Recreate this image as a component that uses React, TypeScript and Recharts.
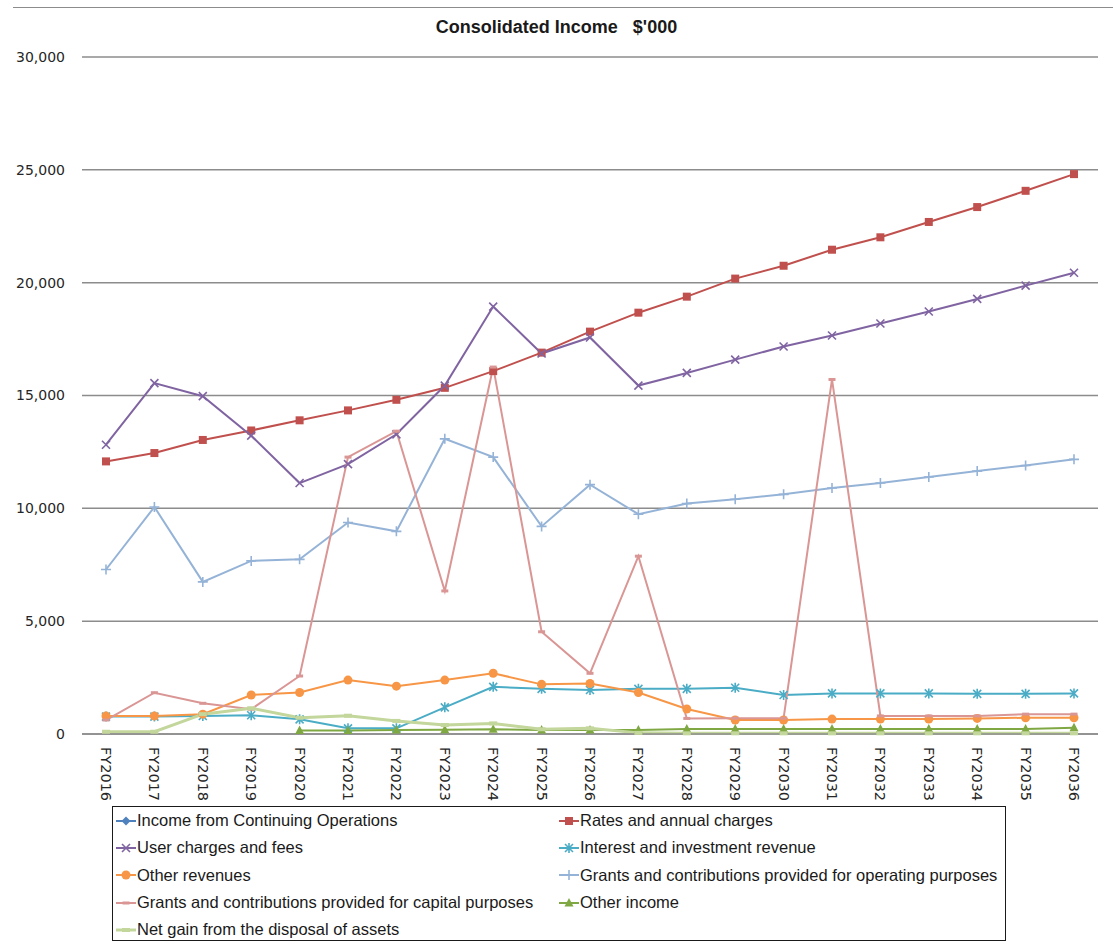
import React from 'react';
import { LineChart, Line, XAxis, YAxis, CartesianGrid } from 'recharts';

/* ── Data ─────────────────────────────────────────────────── */
const categories = [
  'FY2016', 'FY2017', 'FY2018', 'FY2019', 'FY2020', 'FY2021', 'FY2022',
  'FY2023', 'FY2024', 'FY2025', 'FY2026', 'FY2027', 'FY2028', 'FY2029',
  'FY2030', 'FY2031', 'FY2032', 'FY2033', 'FY2034', 'FY2035', 'FY2036',
];

const incomeContinuing: (number | null)[] = [
  null, null, null, null, null, null, null, null, null, null, null,
  null, null, null, null, null, null, null, null, null, null,
];
const ratesAnnual = [
  12080, 12450, 13030, 13450, 13900, 14340, 14810, 15340, 16080, 16900, 17830,
  18670, 19380, 20180, 20750, 21460, 22010, 22690, 23350, 24070, 24810,
];
const userCharges = [
  12820, 15550, 14970, 13220, 11120, 11960, 13280, 15440, 18940, 16860, 17570,
  15440, 16000, 16590, 17170, 17660, 18190, 18720, 19280, 19870, 20440,
];
const interestRevenue = [
  770, 770, 800, 830, 650, 250, 250, 1180, 2090, 2000, 1950,
  2000, 2000, 2050, 1730, 1800, 1800, 1800, 1780, 1780, 1800,
];
const otherRevenues = [
  800, 800, 880, 1730, 1840, 2390, 2120, 2390, 2690, 2200, 2240,
  1840, 1110, 620, 620, 660, 660, 660, 690, 720, 720,
];
const grantsOperating = [
  7290, 10060, 6740, 7670, 7740, 9370, 8980, 13080, 12270, 9200, 11050,
  9740, 10210, 10400, 10620, 10900, 11120, 11390, 11650, 11900, 12170,
];
const grantsCapital = [
  620, 1830, 1360, 1100, 2570, 12270, 13420, 6340, 16260, 4530, 2690,
  7880, 690, 700, 700, 15710, 800, 800, 800, 880, 880,
];
const otherIncome: (number | null)[] = [
  null, null, null, null, 150, 160, 180, 190, 210, 180, 180,
  180, 220, 220, 220, 220, 220, 220, 220, 220, 280,
];
const netGain = [
  100, 100, 880, 1140, 720, 810, 580, 400, 470, 210, 250,
  50, 30, 30, 30, 30, 30, 30, 30, 30, 30,
];

const yTicks = [0, 5000, 10000, 15000, 20000, 25000, 30000];

const chartData = categories.map((cat, i) => ({
  cat,
  incomeContinuing: incomeContinuing[i],
  ratesAnnual: ratesAnnual[i],
  userCharges: userCharges[i],
  interestRevenue: interestRevenue[i],
  otherRevenues: otherRevenues[i],
  grantsOperating: grantsOperating[i],
  grantsCapital: grantsCapital[i],
  otherIncome: otherIncome[i],
  netGain: netGain[i],
}));

/* ── Series config ────────────────────────────────────────── */
type MarkerKind = 'diamond' | 'square' | 'x' | 'asterisk' | 'circle' | 'plus' | 'dash' | 'triangle' | 'bar';

const SERIES: { key: string; name: string; color: string; marker: MarkerKind; width: number }[] = [
  { key: 'incomeContinuing', name: 'Income from Continuing Operations', color: '#4F81BD', marker: 'diamond', width: 2 },
  { key: 'ratesAnnual', name: 'Rates and annual charges', color: '#C0504D', marker: 'square', width: 2 },
  { key: 'userCharges', name: 'User charges and fees', color: '#8064A2', marker: 'x', width: 2 },
  { key: 'interestRevenue', name: 'Interest and investment revenue', color: '#4BACC6', marker: 'asterisk', width: 2 },
  { key: 'otherRevenues', name: 'Other revenues', color: '#F79646', marker: 'circle', width: 2 },
  { key: 'grantsOperating', name: 'Grants and contributions provided for operating purposes', color: '#95B3D7', marker: 'plus', width: 2 },
  { key: 'grantsCapital', name: 'Grants and contributions provided for capital purposes', color: '#D99694', marker: 'dash', width: 2 },
  { key: 'otherIncome', name: 'Other income', color: '#7FA843', marker: 'triangle', width: 2 },
  { key: 'netGain', name: 'Net gain from the disposal of assets', color: '#C3D69B', marker: 'bar', width: 3 },
];

const FONT = {
  axis: "'DejaVu Sans', sans-serif",
  legend: "'Liberation Sans', sans-serif",
  title: "'Liberation Sans', sans-serif",
};

/* ── Markers ──────────────────────────────────────────────── */
function renderMarker(kind: MarkerKind, color: string, cx: number, cy: number, key?: string) {
  switch (kind) {
    case 'diamond':
      return <path key={key} d={`M${cx},${cy - 4.5}L${cx + 4.5},${cy}L${cx},${cy + 4.5}L${cx - 4.5},${cy}Z`} fill={color} />;
    case 'square':
      return <rect key={key} x={cx - 4} y={cy - 4} width={8} height={8} fill={color} />;
    case 'x':
      return (
        <path key={key} d={`M${cx - 4},${cy - 4}L${cx + 4},${cy + 4}M${cx - 4},${cy + 4}L${cx + 4},${cy - 4}`}
          stroke={color} strokeWidth={1.6} fill="none" />
      );
    case 'asterisk':
      return (
        <path key={key}
          d={`M${cx - 4},${cy - 4}L${cx + 4},${cy + 4}M${cx - 4},${cy + 4}L${cx + 4},${cy - 4}M${cx},${cy - 5}L${cx},${cy + 5}`}
          stroke={color} strokeWidth={1.6} fill="none" />
      );
    case 'circle':
      return <circle key={key} cx={cx} cy={cy} r={4.5} fill={color} />;
    case 'plus':
      return (
        <path key={key} d={`M${cx - 5},${cy}L${cx + 5},${cy}M${cx},${cy - 5}L${cx},${cy + 5}`}
          stroke={color} strokeWidth={1.6} fill="none" />
      );
    case 'dash':
      return <rect key={key} x={cx - 3.5} y={cy - 1.5} width={7} height={3} fill={color} />;
    case 'triangle':
      return <path key={key} d={`M${cx},${cy - 5}L${cx + 4.5},${cy + 3.5}L${cx - 4.5},${cy + 3.5}Z`} fill={color} />;
    case 'bar':
      return <rect key={key} x={cx - 4} y={cy - 2} width={8} height={4} fill={color} />;
  }
  return null;
}

const makeDot = (kind: MarkerKind, color: string, dataKey: string) => (props: any) => {
  const { cx, cy, index, value } = props;
  if (value == null || cx == null || cy == null) return <g key={`${dataKey}-${index}`} />;
  return renderMarker(kind, color, cx, cy, `${dataKey}-${index}`);
};

/* ── Rotated x tick ───────────────────────────────────────── */
const RotatedTick = (props: any) => {
  const { x, y, payload } = props;
  const ty = y + 5;
  return (
    <g>
      <text
        x={x}
        y={ty}
        transform={`rotate(90, ${x}, ${ty})`}
        textAnchor="start"
        dominantBaseline="central"
        fontFamily={FONT.axis}
        fontSize={14.5}
        fill="#262626"
      >
        {payload.value}
      </text>
    </g>
  );
};

/* ── Legend ───────────────────────────────────────────────── */
const LegendBox: React.FC = () => (
  <div
    style={{
      position: 'absolute',
      left: 112,
      top: 806,
      width: 892,
      height: 133,
      border: '1px solid #1a1a1a',
      display: 'grid',
      gridTemplateColumns: '443px 449px',
      gridAutoRows: 27.3,
      alignContent: 'start',
    }}
  >
    {SERIES.map((s) => (
      <div key={s.key} style={{ display: 'flex', alignItems: 'center', height: 27.3, paddingLeft: 2 }}>
        <svg width={22} height={12} style={{ flexShrink: 0 }}>
          <line x1={1} y1={6} x2={21} y2={6} stroke={s.color} strokeWidth={s.width} />
          {renderMarker(s.marker, s.color, 11, 6)}
        </svg>
        <span style={{ fontFamily: FONT.legend, fontSize: 16.5, color: '#1a1a1a', whiteSpace: 'nowrap' }}>
          {s.name}
        </span>
      </div>
    ))}
  </div>
);

/* ── Component ────────────────────────────────────────────── */
export default function App() {
  return (
    <div style={{ position: 'absolute', left: 0, top: 0, width: 1113, height: 945, background: '#fff' }}>
      <div style={{ position: 'absolute', left: 13, top: 7, right: 0, height: 0, borderTop: '1px solid #8c8c8c' }} />
      <div
        style={{
          position: 'absolute',
          left: 0,
          width: 1113,
          top: 17,
          textAlign: 'center',
          fontFamily: FONT.title,
          fontWeight: 700,
          fontSize: 18,
          color: '#1a1a1a',
          whiteSpace: 'pre',
        }}
      >
        {"Consolidated Income   $'000"}
      </div>

      <div style={{ position: 'absolute', left: 0, top: 0 }}>
        <LineChart width={1113} height={834} data={chartData} margin={{ top: 57, right: 15, bottom: 0, left: 0 }}>
          <CartesianGrid vertical={false} stroke="#8c8c8c" strokeWidth={1.5} />
          <XAxis
            dataKey="cat"
            height={100}
            interval={0}
            padding={{ left: 24, right: 24 }}
            tickLine={false}
            axisLine={{ stroke: '#8c8c8c', strokeWidth: 1.5 }}
            tick={<RotatedTick />}
          />
          <YAxis
            width={82}
            domain={[0, 30000]}
            ticks={yTicks}
            axisLine={false}
            tickLine={false}
            tickSize={0}
            tickMargin={17}
            tickFormatter={(v: number) => v.toLocaleString('en-US')}
            tick={{ fontFamily: FONT.axis, fontSize: 14, fill: '#262626' }}
          />
          {SERIES.map((s) => (
            <Line
              key={s.key}
              type="linear"
              dataKey={s.key}
              name={s.name}
              stroke={s.color}
              strokeWidth={s.width}
              dot={makeDot(s.marker, s.color, s.key)}
              activeDot={false}
              isAnimationActive={false}
            />
          ))}
        </LineChart>
      </div>

      <LegendBox />
    </div>
  );
}
